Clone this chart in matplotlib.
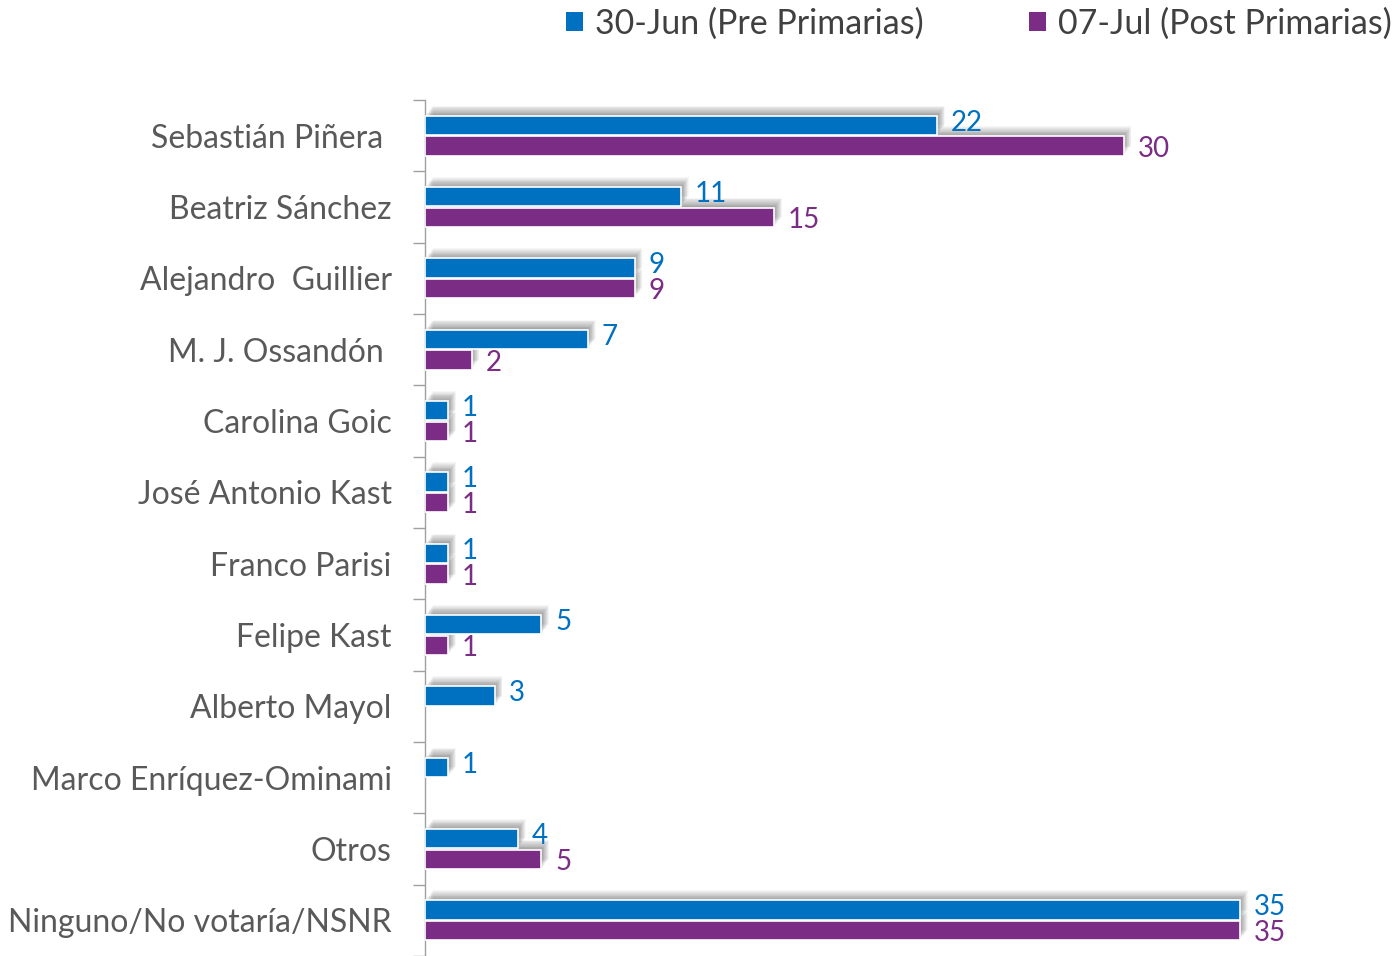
import matplotlib
matplotlib.use("Agg")
import matplotlib.pyplot as plt
import matplotlib.patheffects as pe
from matplotlib.patches import Patch
import numpy as np

categories = ["Sebastián Piñera ", "Beatriz Sánchez", "Alejandro  Guillier", "M. J. Ossandón ",
              "Carolina Goic", "José Antonio Kast", "Franco Parisi", "Felipe Kast",
              "Alberto Mayol", "Marco Enríquez-Ominami", "Otros", "Ninguno/No votaría/NSNR"]
pre = [22, 11, 9, 7, 1, 1, 1, 5, 3, 1, 4, 35]
post = [30, 15, 9, 2, 1, 1, 1, 1, None, None, 5, 35]
series_names = ["30-Jun (Pre Primarias)", "07-Jul (Post Primarias)"]

BLUE = "#0070C0"
PURPLE = "#7B2C85"
TXT = "#595959"

plt.rcParams['font.family'] = ['Lato', 'DejaVu Sans']

W, H = 1395, 956
fig = plt.figure(figsize=(W / 100, H / 100), dpi=100)
x0, x35 = 425, 1240
ppu = (x35 - x0) / 35.0
top_px = 100
cat_px = 71.7
ax = fig.add_axes([x0 / W, 0, 1 - x0 / W, 1 - top_px / H])
ax.set_xlim(0, (W - x0) / ppu)
ax.set_ylim(-0.5 + (H - top_px) / cat_px, -0.5)

y = np.arange(len(categories))
off = 0.145
h = 0.27

shadow = [pe.SimplePatchShadow(offset=(d, d * 1.3), shadow_rgbFace='#000000', alpha=0.035)
          for d in np.linspace(0.3, 5.5, 12)]

for vals, dy, col, lab_dy in ((pre, -off, BLUE, 2.0), (post, off, PURPLE, -2.0)):
    for i, v in enumerate(vals):
        if v is None:
            continue
        sb = ax.barh(y[i] + dy, v, height=h, color='none', edgecolor='none', zorder=1)
        for p in sb.patches:
            p.set_facecolor('black')
            p.set_path_effects(shadow)
        ax.barh(y[i] + dy, v, height=h, color=col, edgecolor='white', linewidth=1.2, zorder=3)
        ax.annotate(str(v), xy=(v, y[i] + dy), xytext=(10, lab_dy), textcoords='offset points',
                    ha='left', va='center', color=col, fontsize=20, zorder=4)

ax.set_yticks(y)
ax.set_yticklabels(categories, fontsize=23, color=TXT)
ax.set_yticks(np.arange(len(categories) + 1) - 0.5, minor=True)
ax.tick_params(axis='y', which='major', length=0, pad=24)
ax.tick_params(axis='y', which='minor', length=8.6, width=1, color='#A0A0A0', direction='out')
ax.set_xticks([])
for s in ('top', 'right', 'bottom'):
    ax.spines[s].set_visible(False)
ax.spines['left'].set_color('#A0A0A0')
ax.spines['left'].set_linewidth(1)

handles = [Patch(facecolor=BLUE, edgecolor='none'), Patch(facecolor=PURPLE, edgecolor='none')]
fig.legend(handles, series_names, loc='upper right', bbox_to_anchor=(1.0, 1.0 - 4 / H), ncol=2,
           frameon=False, fontsize=24.5, labelcolor='#404040', handlelength=0.5, handleheight=0.5,
           handletextpad=0.35, columnspacing=3.1, borderaxespad=0.0, borderpad=0.1)

fig.savefig("out.png", dpi=100)
